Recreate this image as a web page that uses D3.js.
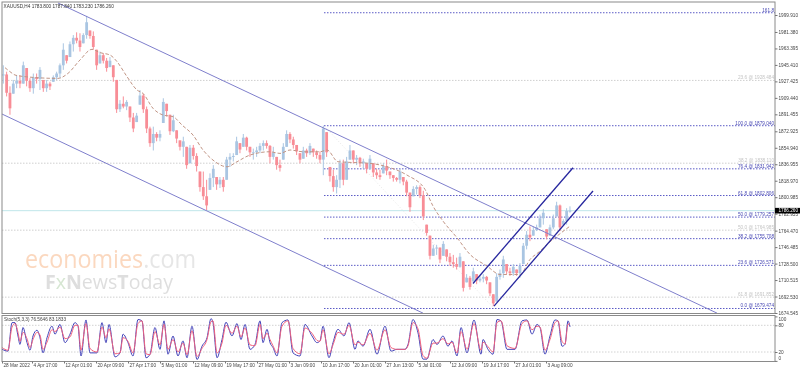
<!DOCTYPE html>
<html>
<head>
<meta charset="utf-8">
<script src="https://cdn.jsdelivr.net/npm/d3@7"></script>
<style>
html, body { margin: 0; padding: 0; background: #fff; overflow: hidden; }
text { font-family: "Liberation Sans", Arial, sans-serif; }
/* the reference is a downscaled screenshot, so everything in it is a little soft */
svg { filter: blur(0.35px); }
</style>
</head>
<body>
<div id="chart"></div>
<script>
// H4 candles: one candle for every 10/3 chart bars
var barsPerCandle = 10 / 3;

var highs = [1945,1938,1922,1929,1934,1934,1949,1942,1931,1936,1936,1943,1929,1929,1927,1934,1938,1947,1969,1956,
1971,1978,1981,1980,1980,1999,1983,1982,1962,1960,1958,1953,1954,1945,1929,1907,1911,1907,1900,1893,
1893,1918,1914,1900,1878,1878,1872,1874,1909,1903,1891,1891,1874,1863,1867,1856,1858,1858,1849,1829,
1829,1820,1827,1836,1823,1823,1823,1845,1849,1849,1867,1860,1870,1867,1856,1854,1856,1860,1863,1863,
1858,1856,1845,1842,1860,1874,1872,1867,1858,1849,1856,1854,1860,1854,1852,1851,1879,1872,1834,1831,
1825,1842,1842,1845,1858,1852,1847,1845,1843,1838,1847,1838,1832,1831,1838,1842,1829,1825,1823,1832,
1823,1820,1806,1813,1814,1814,1808,1771,1759,1749,1749,1746,1753,1744,1740,1738,1735,1740,1731,1717,
1715,1724,1717,1715,1717,1715,1708,1695,1718,1722,1737,1728,1724,1728,1722,1729,1751,1764,1769,1769,
1771,1782,1788,1766,1771,1782,1796,1793,1777,1789,1791];

var lows = [1925,1911,1891,1914,1920,1920,1925,1922,1916,1914,1925,1918,1916,1916,1918,1927,1929,1931,1940,1947,
1954,1960,1969,1960,1969,1974,1974,1962,1940,1947,1947,1938,1943,1927,1893,1894,1898,1896,1883,1872,
1883,1902,1893,1871,1856,1852,1862,1862,1882,1889,1869,1872,1860,1852,1845,1832,1838,1842,1829,1807,
1798,1787,1809,1812,1809,1811,1807,1820,1834,1840,1847,1849,1856,1852,1845,1842,1845,1849,1852,1854,
1838,1842,1831,1829,1842,1856,1860,1854,1847,1838,1843,1845,1847,1845,1843,1838,1825,1845,1818,1807,
1805,1811,1814,1820,1842,1838,1836,1834,1832,1827,1831,1823,1821,1820,1827,1825,1821,1818,1818,1816,
1814,1802,1785,1802,1804,1800,1776,1759,1733,1737,1738,1729,1737,1731,1726,1724,1722,1724,1698,1708,
1700,1709,1706,1708,1708,1706,1693,1682,1687,1711,1713,1717,1715,1715,1715,1713,1728,1744,1753,1759,
1764,1768,1771,1755,1759,1766,1780,1764,1771,1771,1784];

var closes = [1935,1915,1898,1925,1928,1925,1945,1928,1920,1932,1930,1940,1920,1925,1922,1932,1936,1945,1962,1950,
1968,1975,1972,1965,1978,1992,1977,1965,1945,1956,1950,1942,1950,1932,1897,1903,1900,1905,1888,1876,
1890,1912,1897,1876,1860,1870,1866,1870,1905,1895,1873,1885,1865,1856,1862,1836,1855,1846,1835,1812,
1802,1792,1822,1832,1815,1820,1812,1842,1845,1846,1862,1853,1866,1856,1850,1850,1852,1857,1860,1857,
1845,1850,1836,1833,1856,1870,1864,1858,1851,1842,1852,1849,1857,1850,1847,1842,1876,1850,1824,1812,
1820,1838,1820,1840,1852,1842,1844,1838,1840,1832,1843,1828,1825,1823,1835,1830,1825,1822,1820,1829,
1818,1806,1790,1810,1812,1803,1780,1762,1737,1745,1746,1733,1750,1736,1730,1728,1725,1736,1702,1713,
1703,1720,1710,1712,1714,1710,1696,1685,1714,1718,1733,1720,1718,1725,1718,1726,1748,1760,1757,1765,
1768,1778,1784,1758,1768,1778,1792,1768,1775,1786,1786.26];

// moving average
var maBars = [3,8,13,18,31,56,66,78,90,98,108,115,125,135,141,151,161,171,180,191,201,211,225,235,248,268,278,288,301,318,
325,336,348,368,385,405,423,431,441,455,468,485,498,518,528,538,545,555,568];
var maPrices = [1942.4,1938,1934.4,1933.3,1931.8,1930.7,1936.2,1950.8,1962.4,1958.8,1956.2,1949,1932.6,1918,1914.3,1898,1890.7,1888.9,1879.8,1868.8,
1852.5,1841.5,1834.2,1839.7,1847,1850.6,1848.8,1852.5,1850.6,1850.6,1852.5,1839.7,1839,1837.9,1834.2,1825.1,1809.5,1791.3,1774.9,1756.7,
1738.5,1725.8,1716.6,1716.6,1733,1742.1,1749.4,1758.5,1769.4];

// stochastic
var stochBars = [0,6,10,13,16,18,21,25,28,31,35,38,41,45,50,53,58,63,68,73,
76,79,84,88,95,100,104,107,113,118,121,126,131,136,140,144,148,153,158,162,
166,171,176,181,185,190,195,200,205,209,211,215,220,224,230,235,239,243,248,253,
258,261,265,268,271,275,280,286,291,298,303,310,315,318,321,327,331,336,342,347,
353,356,361,368,375,383,389,395,403,406,411,416,421,425,431,435,441,446,450,455,
459,465,472,479,481,486,491,495,499,505,513,520,525,530,535,538,543,548,553,556,
560,563,566,568];
var stochMain = [26,22,86,86,56,37,75,41,24,56,69,52,18,52,78,60,82,41,60,86,
78,11,92,18,18,86,41,82,9,18,60,41,11,93,90,7,15,75,26,90,
15,56,11,45,7,78,3,33,52,95,86,7,48,87,56,84,48,82,26,37,
90,41,71,41,30,11,86,92,18,11,82,56,41,45,78,7,41,71,56,86,
26,45,33,71,15,78,22,26,26,37,93,63,4,4,48,37,56,33,45,11,
75,18,92,15,48,26,15,93,90,26,26,90,92,60,82,75,15,56,92,90,
33,37,90,76.56];
var stochSignal = [30,24,76,84,64,44,64,50,30,48,64,58,26,42,70,66,76,50,54,80,
80,24,84,28,20,76,52,72,16,18,52,44,18,84,90,16,14,66,36,82,
26,48,20,40,14,68,10,28,48,88,90,18,40,80,62,78,54,74,36,34,
82,50,62,48,34,18,78,90,28,16,74,62,46,44,70,16,36,64,60,80,
36,42,36,62,24,70,30,26,26,34,86,72,12,6,40,40,50,38,42,18,
66,26,84,24,42,32,20,86,90,34,28,84,90,70,78,76,24,48,86,90,
44,38,82,83.18];

// fibonacci levels
var fibPrices = [2002.372,1879.040,1831.942,1802.806,1779.257,1755.708,1726.571,1679.474];
var fibLabels = ["161.8","100.0 @ 1879.040","76.4 @ 1831.942","61.8 @ 1802.806","50.0 @ 1779.257","38.2 @ 1755.708","23.6 @ 1726.571","0.0 @ 1679.474"];
var oldFibPrices = [1928.484,1838.110,1764.985,1691.852];
var oldFibLabels = ["23.6 @ 1928.484","38.2 @ 1838.110","50.0 @ 1764.985","61.8 @ 1691.852"];

// trend channels: [start bar, start price, end bar, end price]
var wideChannel = [[56,2013,715,1674.4],[0,1891.8,421,1674.4]];
var riseChannel = [[471,1706.8,571,1833.1],[492,1682,591,1807.7]];
var fibTrend = [322,1879.04,492,1679.47];

var priceTicks = [1999.91,1981.38,1963.395,1945.41,1927.425,1909.44,1891.455,1872.925,1854.94,1836.955,1818.97,1800.985,1782.955,1764.47,1746.485,1728.5,1710.515,1692.53,1674.545];
var stochTicks = [100,80,20,0];
var timeBars = [0,30,62,94,126,158,191,223,255,287,319,351,383,415,448,480,512,544];
var timeLabels = ["28 Mar 2022","4 Apr 17:00","12 Apr 01:00","20 Apr 09:00","27 Apr 17:00","5 May 01:00","12 May 09:00","19 May 17:00","27 May 01:00","3 Jun 09:00","10 Jun 17:00","20 Jun 01:00","27 Jun 13:00","5 Jul 01:00","12 Jul 09:00","19 Jul 17:00","27 Jul 01:00","3 Aug 09:00"];

var lastPrice = 1786.26;

var width = 800, height = 372;
var left = 2, right = 775, mainTop = 2, mainBottom = 313.5, subTop = 315.5, subBottom = 361.5;

var x = d3.scaleLinear().domain([0, 773]).range([left, right]);
var y = d3.scaleLinear().domain([1674.545, 1999.91]).range([313, 15]);
var yStoch = d3.scaleLinear().domain([0, 100]).range([360.9, 316.4]);

var svg = d3.select("#chart").append("svg")
    .attr("width", width)
    .attr("height", height)
    .style("display", "block");

svg.append("clipPath").attr("id", "mainClip").append("rect")
    .attr("x", left).attr("y", mainTop)
    .attr("width", right - left).attr("height", mainBottom - mainTop);

var main = svg.append("g").attr("clip-path", "url(#mainClip)");

// watermark
var mark = main.append("text")
    .attr("x", 25).attr("y", 268)
    .style("font-family", "Open Sans")
    .style("font-size", "25px")
    .attr("textLength", 171)
    .attr("lengthAdjust", "spacingAndGlyphs");
mark.append("tspan").style("fill", "#fbd8bf").text("economies");
mark.append("tspan").style("fill", "#e6e6e6").text(".com");

var mark2 = main.append("text")
    .attr("x", 45).attr("y", 289)
    .style("font-family", "Open Sans")
    .style("font-size", "20px")
    .style("fill", "#dedede")
    .attr("textLength", 128)
    .attr("lengthAdjust", "spacingAndGlyphs");
mark2.append("tspan").style("font-weight", "bold").text("F");
mark2.append("tspan").style("fill", "#d6e6d2").text("x");
mark2.append("tspan").style("font-weight", "bold").text("N");
mark2.append("tspan").text("ews");
mark2.append("tspan").style("font-weight", "bold").text("T");
mark2.append("tspan").text("oday");

// old fibonacci levels
main.selectAll(".oldFib").data(oldFibPrices).enter().append("line")
    .attr("class", "oldFib")
    .attr("x1", left).attr("x2", right)
    .attr("y1", function(d) { return y(d); })
    .attr("y2", function(d) { return y(d); })
    .attr("stroke", "#cfcfcf")
    .attr("stroke-dasharray", "1.5,1.5");

main.selectAll(".oldFibLabel").data(oldFibLabels).enter().append("text")
    .attr("class", "oldFibLabel")
    .attr("x", 774)
    .attr("y", function(d, i) { return y(oldFibPrices[i]) - 1; })
    .attr("text-anchor", "end")
    .style("font-size", "4.7px")
    .style("fill", "#c4c4c4")
    .text(function(d) { return d; });

// last price line
main.append("line")
    .attr("x1", left).attr("x2", right)
    .attr("y1", y(lastPrice)).attr("y2", y(lastPrice))
    .attr("stroke", "#bfe6ea");

// faint diagonal of the fib tool
main.append("line")
    .attr("x1", x(fibTrend[0])).attr("y1", y(fibTrend[1]))
    .attr("x2", x(fibTrend[2])).attr("y2", y(fibTrend[3]))
    .attr("stroke", "#e6e6e6")
    .attr("stroke-dasharray", "1,2");

// new fibonacci levels
main.selectAll(".fib").data(fibPrices).enter().append("line")
    .attr("class", "fib")
    .attr("x1", x(322)).attr("x2", right)
    .attr("y1", function(d) { return y(d); })
    .attr("y2", function(d) { return y(d); })
    .attr("stroke", "#5b5bc6")
    .attr("stroke-dasharray", "1.5,1.5");

main.selectAll(".fibLabel").data(fibLabels).enter().append("text")
    .attr("class", "fibLabel")
    .attr("x", 774)
    .attr("y", function(d, i) { return y(fibPrices[i]) - 1; })
    .attr("text-anchor", "end")
    .style("font-size", "4.7px")
    .style("fill", "#4a4ab4")
    .text(function(d) { return d; });

// candles
function isUp(d, i) { return i == 0 || d >= closes[i - 1]; }

main.selectAll(".wick").data(closes).enter().append("line")
    .attr("class", "wick")
    .attr("x1", function(d, i) { return x(i * barsPerCandle + 1.3); })
    .attr("x2", function(d, i) { return x(i * barsPerCandle + 1.3); })
    .attr("y1", function(d, i) { return y(highs[i]); })
    .attr("y2", function(d, i) { return y(lows[i]); })
    .attr("stroke", function(d, i) { return isUp(d, i) ? "#a9c5e2" : "#f88d96"; });

main.selectAll(".body").data(closes).enter().append("rect")
    .attr("class", "body")
    .attr("x", function(d, i) { return x(i * barsPerCandle + 1.3) - 1.4; })
    .attr("width", 2.8)
    .attr("y", function(d, i) {
        var open = i == 0 ? d : Math.max(lows[i], Math.min(highs[i], closes[i - 1]));
        return y(Math.max(open, d));
    })
    .attr("height", function(d, i) {
        var open = i == 0 ? d : Math.max(lows[i], Math.min(highs[i], closes[i - 1]));
        return Math.max(1, Math.abs(y(open) - y(d)));
    })
    .attr("fill", function(d, i) { return isUp(d, i) ? "#a9c5e2" : "#f88d96"; });

// moving average
var maLine = d3.line()
    .x(function(d) { return x(d); })
    .y(function(d, i) { return y(maPrices[i]); })
    .curve(d3.curveMonotoneX);

main.append("path")
    .datum(maBars)
    .attr("d", maLine)
    .attr("fill", "none")
    .attr("stroke", "#c09484")
    .attr("stroke-dasharray", "3.5,2");

// channels
main.selectAll(".wide").data(wideChannel).enter().append("line")
    .attr("class", "wide")
    .attr("x1", function(d) { return x(d[0]); })
    .attr("y1", function(d) { return y(d[1]); })
    .attr("x2", function(d) { return x(d[2]); })
    .attr("y2", function(d) { return y(d[3]); })
    .attr("stroke", "#7f7fcc");

main.selectAll(".rise").data(riseChannel).enter().append("line")
    .attr("class", "rise")
    .attr("x1", function(d) { return x(d[0]); })
    .attr("y1", function(d) { return y(d[1]); })
    .attr("x2", function(d) { return x(d[2]); })
    .attr("y2", function(d) { return y(d[3]); })
    .attr("stroke", "#26269e")
    .attr("stroke-width", 1.3);

// stochastic panel
svg.selectAll(".stochLevel").data([80, 20]).enter().append("line")
    .attr("class", "stochLevel")
    .attr("x1", left).attr("x2", right)
    .attr("y1", function(d) { return yStoch(d); })
    .attr("y2", function(d) { return yStoch(d); })
    .attr("stroke", "#d2d2d2")
    .attr("stroke-dasharray", "1.5,1.5");

var stochLine = function(values) {
    return d3.line()
        .x(function(d) { return x(d); })
        .y(function(d, i) { return yStoch(values[i]); })
        .curve(d3.curveMonotoneX);
};

svg.append("path")
    .datum(stochBars)
    .attr("d", stochLine(stochMain))
    .attr("fill", "none")
    .attr("stroke", "#4242b8")
    .attr("stroke-width", 1);

svg.append("path")
    .datum(stochBars)
    .attr("d", stochLine(stochSignal))
    .attr("fill", "none")
    .attr("stroke", "#f0607c")
    .attr("stroke-width", 1);

svg.append("text")
    .attr("x", 4).attr("y", 320.5)
    .style("font-size", "4.7px")
    .style("fill", "#444")
    .text("Stoch(5,3,3) 76.5646 83.1833");

// header
svg.append("text")
    .attr("x", 3.5).attr("y", 7.8)
    .style("font-size", "4.7px")
    .style("fill", "#333")
    .text("XAUUSD,H4  1783.800 1787.840 1783.230 1786.260");

// frames
var frames = [[left, mainTop, right - left, mainBottom - mainTop], [left, subTop, right - left, subBottom - subTop]];
svg.selectAll(".frame").data(frames).enter().append("rect")
    .attr("class", "frame")
    .attr("x", function(d) { return d[0]; })
    .attr("y", function(d) { return d[1]; })
    .attr("width", function(d) { return d[2]; })
    .attr("height", function(d) { return d[3]; })
    .attr("fill", "none")
    .attr("stroke", "#8a8a8a");

// axes
var priceAxis = d3.axisRight(y)
    .tickValues(priceTicks)
    .tickFormat(d3.format(".3f"))
    .tickSize(2.5)
    .tickPadding(1);

var priceG = svg.append("g")
    .attr("transform", "translate(" + right + ",0)")
    .call(priceAxis);

var stochAxis = d3.axisRight(yStoch)
    .tickValues(stochTicks)
    .tickSize(2.5)
    .tickPadding(1);

var stochG = svg.append("g")
    .attr("transform", "translate(" + right + ",0)")
    .call(stochAxis);
stochG.selectAll("text")
    .attr("dy", function(d) { return d == 100 ? "0.9em" : d == 0 ? "-0.25em" : "0.32em"; });

var timeAxis = d3.axisBottom(x)
    .tickValues(timeBars)
    .tickFormat(function(d, i) { return timeLabels[i]; })
    .tickSize(2)
    .tickPadding(0);

var timeG = svg.append("g")
    .attr("transform", "translate(0," + subBottom + ")")
    .call(timeAxis);
timeG.selectAll("text")
    .attr("text-anchor", "start")
    .attr("dx", 1)
    .attr("y", 2.5);

[priceG, stochG, timeG].forEach(function(g) {
    g.select(".domain").remove();
    g.selectAll("line").attr("stroke", "#777");
    g.selectAll("text")
        .style("font-family", "Liberation Sans")
        .style("font-size", "4.7px")
        .style("fill", "#444");
});

// last price tag
svg.append("rect")
    .attr("x", right).attr("y", y(lastPrice) - 2.8)
    .attr("width", 25).attr("height", 5.6)
    .attr("fill", "#000");
svg.append("text")
    .attr("x", right + 3.5).attr("y", y(lastPrice) + 1.7)
    .style("font-size", "4.7px")
    .style("fill", "#fff")
    .text(d3.format(".3f")(lastPrice));
</script>
</body>
</html>
